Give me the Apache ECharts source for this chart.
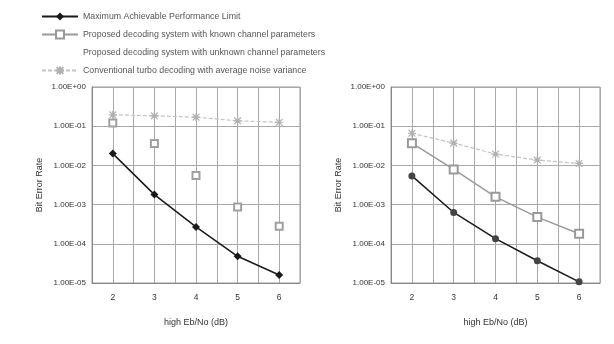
<!DOCTYPE html>
<html>
<head>
<meta charset="utf-8">
<script src="https://cdn.jsdelivr.net/npm/echarts@6/dist/echarts.min.js"></script>
<style>
  html, body { margin: 0; padding: 0; background: #fff; }
  #chart { width: 614px; height: 344px; }
</style>
</head>
<body>
<div id="chart"></div>
<script>
// Eb/No steps (dB)
const ebno = [2, 3, 4, 5, 6];

// Legend / series names
const nameLimit = 'Maximum Achievable Performance Limit';
const nameKnown = 'Proposed decoding system with known channel parameters';
const nameUnknown = 'Proposed decoding system with unknown channel parameters';
const nameConv = 'Conventional turbo decoding with average noise variance';

// Left panel BER values
const leftLimit = [2.0e-2, 1.8e-3, 2.7e-4, 4.8e-5, 1.6e-5];
const leftKnown = [1.2e-1, 3.6e-2, 5.5e-3, 8.7e-4, 2.8e-4];
const leftConv = [1.95e-1, 1.84e-1, 1.7e-1, 1.37e-1, 1.26e-1];

// Right panel BER values
const rightLimit = [5.4e-3, 6.3e-4, 1.35e-4, 3.7e-5, 1.07e-5];
const rightKnown = [3.7e-2, 7.9e-3, 1.58e-3, 4.8e-4, 1.8e-4];
const rightConv = [6.6e-2, 3.7e-2, 1.95e-2, 1.37e-2, 1.12e-2];

const pairs = (ys) => ebno.map((x, i) => [x, ys[i]]);

// 1.00E-05 style tick text
function sci(v) {
  const e = Math.round(Math.log10(v));
  const m = v / Math.pow(10, e);
  const sign = e < 0 ? '-' : '+';
  const a = Math.abs(e);
  return m.toFixed(2) + 'E' + sign + (a < 10 ? '0' + a : String(a));
}

const font = 'Liberation Sans, Arial, sans-serif';
const gridColor = '#a8a8a8';

function xAxis(idx) {
  return {
    type: 'value', gridIndex: idx, min: 1.5, max: 6.5, interval: 0.5,
    name: 'high Eb/No (dB)', nameLocation: 'middle', nameGap: 35,
    nameTextStyle: { fontFamily: font, fontSize: 9, color: '#333' },
    axisLine: { show: true, lineStyle: { color: '#888' } },
    axisTick: { show: false },
    axisLabel: {
      margin: 10, fontFamily: font, fontSize: 8.5, color: '#333',
      formatter: (v) => (Number.isInteger(v) ? String(v) : ''),
      showMinLabel: false, showMaxLabel: false
    },
    splitLine: { show: true, lineStyle: { color: gridColor, width: 1 } }
  };
}

function yAxis(idx) {
  return {
    type: 'log', logBase: 10, gridIndex: idx, min: 1e-5, max: 1,
    name: 'Bit Error Rate', nameLocation: 'middle', nameGap: 48, nameRotate: 90,
    nameTextStyle: { fontFamily: font, fontSize: 9, color: '#333' },
    axisLine: { show: true, lineStyle: { color: '#888' } },
    axisTick: { show: false },
    axisLabel: { margin: 6, fontFamily: font, fontSize: 8, color: '#333', formatter: sci },
    splitLine: { show: true, lineStyle: { color: gridColor, width: 1 } }
  };
}

const starPath = 'path://M0,0L10,10M10,0L0,10M5,-1L5,11M-1,5L11,5';

const option = {
  backgroundColor: '#fff',
  animation: false,
  textStyle: { fontFamily: font },
  legend: {
    orient: 'vertical', left: 36, top: 7,
    itemWidth: 36, itemHeight: 10, itemGap: 8.5,
    textStyle: { fontFamily: font, fontSize: 8.8, color: '#555' },
    data: [nameLimit, nameKnown, nameUnknown, nameConv],
    selectedMode: false
  },
  grid: [
    { left: 92, top: 87, width: 208, height: 196, show: true, borderColor: '#999', borderWidth: 1 },
    { left: 391, top: 87, width: 209, height: 196, show: true, borderColor: '#999', borderWidth: 1 }
  ],
  xAxis: [xAxis(0), xAxis(1)],
  yAxis: [yAxis(0), yAxis(1)],
  series: [
    {
      name: nameLimit, type: 'line', xAxisIndex: 0, yAxisIndex: 0,
      data: pairs(leftLimit), symbol: 'diamond', symbolSize: 8,
      lineStyle: { color: '#1a1a1a', width: 1.5 }, itemStyle: { color: '#1a1a1a' }
    },
    {
      name: nameKnown, type: 'line', xAxisIndex: 1, yAxisIndex: 1,
      data: pairs(rightKnown), symbol: 'emptyRect', symbolSize: 8,
      lineStyle: { color: '#9a9a9a', width: 1.5 }, itemStyle: { color: '#999', borderWidth: 1.3 }
    },
    {
      name: nameUnknown, type: 'line', xAxisIndex: 0, yAxisIndex: 0,
      data: [], symbol: 'none',
      lineStyle: { color: '#ffffff', width: 0 }, itemStyle: { color: '#ffffff' }
    },
    {
      name: nameConv, type: 'line', xAxisIndex: 0, yAxisIndex: 0,
      data: pairs(leftConv), symbol: starPath, symbolSize: 8,
      lineStyle: { color: '#c4c4c4', width: 1.2, type: [4, 2] },
      itemStyle: { color: '#ffffff', borderColor: '#b0b0b0', borderWidth: 1.2 }
    },
    {
      name: nameKnown, type: 'line', xAxisIndex: 0, yAxisIndex: 0,
      data: pairs(leftKnown), symbol: 'emptyRect', symbolSize: 7,
      lineStyle: { opacity: 0 }, itemStyle: { color: '#a0a0a0', borderWidth: 1.2 }
    },
    {
      name: nameLimit, type: 'line', xAxisIndex: 1, yAxisIndex: 1,
      data: pairs(rightLimit), symbol: 'circle', symbolSize: 7,
      lineStyle: { color: '#1a1a1a', width: 1.5 }, itemStyle: { color: '#444' }
    },
    {
      name: nameConv, type: 'line', xAxisIndex: 1, yAxisIndex: 1,
      data: pairs(rightConv), symbol: starPath, symbolSize: 8,
      lineStyle: { color: '#c4c4c4', width: 1.2, type: [4, 2] },
      itemStyle: { color: '#ffffff', borderColor: '#b0b0b0', borderWidth: 1.2 }
    }
  ]
};

const chart = echarts.init(document.getElementById('chart'), null, { renderer: 'canvas' });
chart.setOption(option);
</script>
</body>
</html>
